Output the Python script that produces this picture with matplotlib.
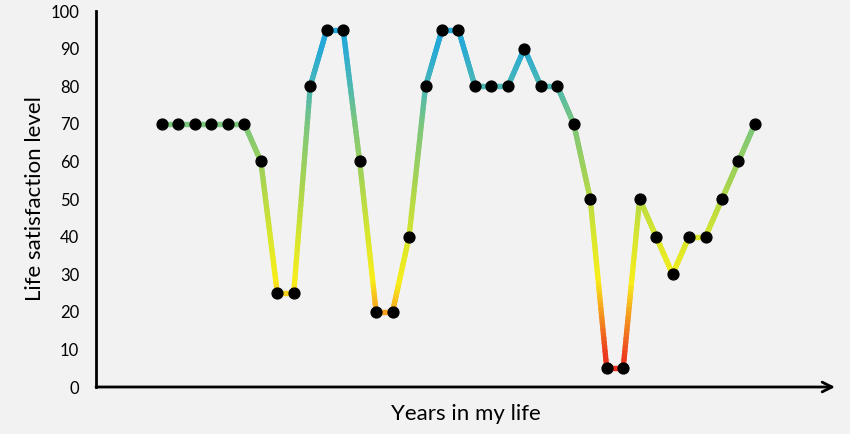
import numpy as np
import matplotlib
matplotlib.use("Agg")
import matplotlib.pyplot as plt
from matplotlib.collections import LineCollection
from matplotlib.colors import LinearSegmentedColormap

plt.rcParams['font.family'] = ['Lato', 'DejaVu Sans']

# Data
satisfaction = [70, 70, 70, 70, 70, 70, 60, 25, 25, 80, 95, 95, 60, 20, 20, 40,
                80, 95, 95, 80, 80, 80, 90, 80, 80, 70, 50, 5, 5, 50, 40, 30,
                40, 40, 50, 60, 70]
years = list(range(len(satisfaction)))
y_ticks = [0, 10, 20, 30, 40, 50, 60, 70, 80, 90, 100]
x_label = "Years in my life"
y_label = "Life satisfaction level"

bg = "#f2f2f2"
cmap = LinearSegmentedColormap.from_list("life", [
    (0.00, "#e8201c"), (0.08, "#ec3a1e"), (0.20, "#f6a01e"), (0.28, "#f8ee1a"),
    (0.40, "#d8e62e"), (0.55, "#a6d452"), (0.70, "#7cc67c"), (0.80, "#4cb8b4"),
    (0.90, "#28aad6"), (1.00, "#1ea6dc")])

fig = plt.figure(figsize=(8.5, 4.34), dpi=100, facecolor=bg)
ax = fig.add_axes([96/850, 47/434, (835-96)/850, 376/434], facecolor=bg)

x = np.asarray(years, dtype=float)
y = np.asarray(satisfaction, dtype=float)
# subdivide each segment so the colour follows the value along the line
xs, ys = [], []
for i in range(len(x) - 1):
    t = np.linspace(0, 1, 40, endpoint=False)
    xs.append(x[i] + (x[i+1]-x[i])*t)
    ys.append(y[i] + (y[i+1]-y[i])*t)
xs.append([x[-1]]); ys.append([y[-1]])
xs = np.concatenate(xs); ys = np.concatenate(ys)
pts = np.column_stack([xs, ys]).reshape(-1, 1, 2)
segs = np.concatenate([pts[:-1], pts[1:]], axis=1)
lc = LineCollection(segs, cmap=cmap, norm=plt.Normalize(0, 100),
                    linewidths=3.8, capstyle='round', joinstyle='round')
lc.set_array((ys[:-1] + ys[1:]) / 2)
ax.add_collection(lc)
ax.plot(x, y, 'o', color='black', markersize=7.8, zorder=3)

ax.set_xlim(-4.007, 40.86)
ax.set_ylim(0, 100)
ax.set_yticks(y_ticks)
ax.set_xticks([])
ax.tick_params(axis='y', length=0, pad=12, labelsize=12, labelcolor='black')
for s in ['top', 'right', 'bottom']:
    ax.spines[s].set_visible(False)
ax.spines['left'].set_linewidth(2.0)
ax.spines['left'].set_color('black')
ax.annotate('', xy=(1.0, 0), xytext=(0, 0), xycoords='axes fraction',
            arrowprops=dict(arrowstyle='->,head_length=0.7,head_width=0.35',
                            lw=2.0, color='black', shrinkA=0, shrinkB=0),
            annotation_clip=False)
ax.set_ylabel(y_label, fontsize=16, labelpad=4, color='black')
ax.set_xlabel(x_label, fontsize=16, labelpad=12, color='black')

fig.savefig("out.png", dpi=100, facecolor=bg)
